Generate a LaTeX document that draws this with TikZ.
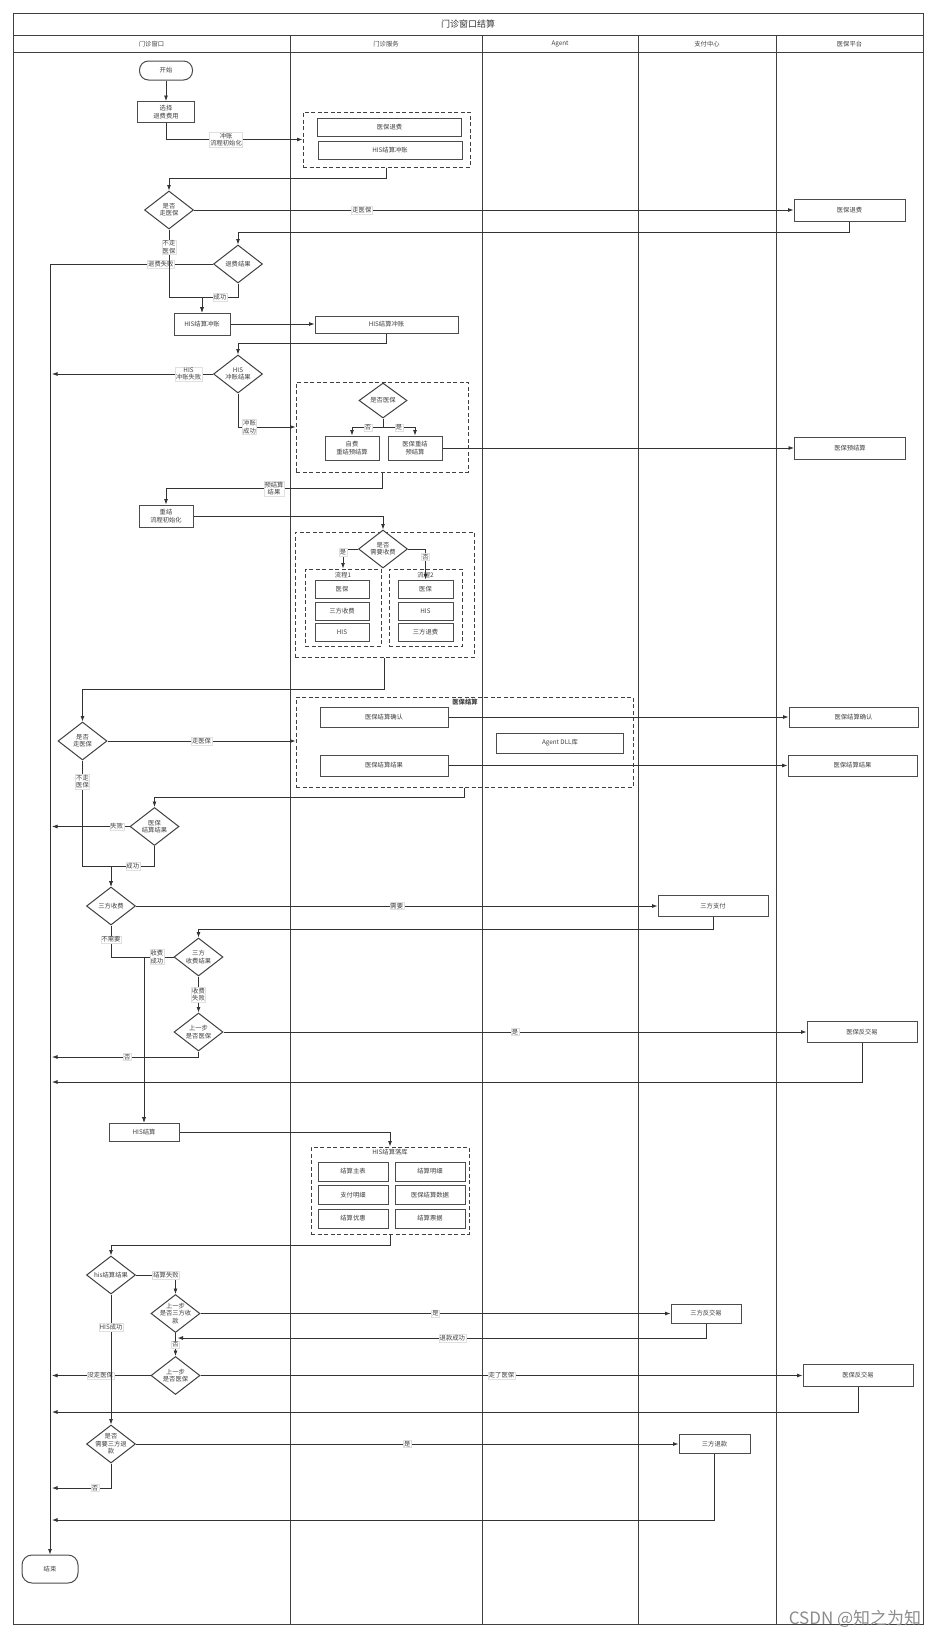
\documentclass[tikz,border=0pt]{standalone}
\usepackage{fontspec}
\setmainfont{Noto Sans CJK SC}
\usetikzlibrary{arrows.meta,shapes.geometric,calc}
\newcommand\myfs{\fontsize{6.3}{7.4}\selectfont}
\newcommand\mytitlefs{\fontsize{9}{10}\selectfont}
\begin{document}
\begin{tikzpicture}[x=1pt,y=-1pt,
  ln/.style={draw=black!80, line width=0.8pt},
  arr/.style={ln, -{Latex[length=5.5pt,width=4pt]}},
  box/.style={draw=black!70, line width=1pt, fill=white, inner sep=0pt, font=\myfs, text=black!75, align=center},
  term/.style={box, rounded corners=9pt},
  grp/.style={draw=black!75, line width=1pt, dash pattern=on 4pt off 2.5pt, inner sep=0pt},
  dia/.style={diamond, draw=black!75, line width=1pt, fill=white, inner sep=0pt, minimum width=49pt, minimum height=38pt},
  dtxt/.style={font=\myfs, text=black!75, align=center, inner sep=0pt},
  lbl/.style={font=\myfs, text=black!75, fill=white, draw=black!12, line width=0.3pt, inner sep=0.8pt, align=center},
  lane/.style={draw=black!75, line width=1pt},
  hdr/.style={font=\myfs, text=black!75},
  gtitle/.style={font=\myfs, text=black!75, inner sep=0pt}
]
\useasboundingbox (0,0) rectangle (937,1638);
% ---------- frame and lanes ----------
\draw[lane] (13,13) rectangle (923,1624);
\draw[lane] (13,35) -- (923,35);
\draw[lane] (13,52) -- (923,52);
\foreach \xx in {290,482,638,776} \draw[lane] (\xx,35) -- (\xx,1624);
\node[font=\mytitlefs, text=black!80] (title) at (468,24) {门诊窗口结算};
\node[hdr] (h1) at (151.5,44) {门诊窗口};
\node[hdr] (h2) at (386,44) {门诊服务};
\node[hdr] (h3) at (560,44) {Agent};
\node[hdr] (h4) at (707,44) {支付中心};
\node[hdr] (h5) at (849.5,44) {医保平台};

% ---------- groups ----------
\node[grp, minimum width=167pt, minimum height=55pt] (g1) at (386.5,139.5) {};
\node[grp, minimum width=172pt, minimum height=90pt] (g2) at (382,427) {};
\node[grp, minimum width=179pt, minimum height=125pt] (g3) at (384.5,594.5) {};
\node[grp, minimum width=76pt, minimum height=77pt] (g31) at (343,607.5) {};
\node[grp, minimum width=73pt, minimum height=77pt] (g32) at (425.5,607.5) {};
\node[grp, minimum width=337pt, minimum height=90pt] (g4) at (464.5,742) {};
\node[grp, minimum width=158pt, minimum height=87pt] (g5) at (390,1190.5) {};
\node[gtitle] (g31t) at (343,575) {流程1};
\node[gtitle] (g32t) at (425.5,575) {流程2};
\node[gtitle, font=\myfs\bfseries] (g4t) at (465,702) {医保结算};
\node[gtitle] (g5t) at (390,1152) {HIS结算落库};

% ---------- nodes ----------
\node[term, minimum width=53pt, minimum height=19pt] (start) at (166,70.5) {开始};
\node[box, minimum width=57pt, minimum height=21pt] (bsel) at (166,112) {选择\\退费费用};
\node[box, minimum width=144pt, minimum height=18pt] (g1a) at (389.5,127) {医保退费};
\node[box, minimum width=144pt, minimum height=18pt] (g1b) at (390,150) {HIS结算冲账};
\node[dia, label={[dtxt]center:是否\\走医保}] (dzyb1) at (169,210) {};
\node[box, minimum width=111pt, minimum height=22pt] (rybtf) at (849.5,210) {医保退费};
\node[dia, label={[dtxt]center:退费结果}] (dtfjg) at (238,264) {};
\node[box, minimum width=56pt, minimum height=22pt] (bhiscz) at (202,324) {HIS结算冲账};
\node[box, minimum width=143pt, minimum height=17pt] (shiscz) at (386.5,324.5) {HIS结算冲账};
\node[dia, label={[dtxt]center:HIS\\冲账结果}] (dhisczjg) at (238,374) {};
\node[dia, minimum width=48pt, minimum height=35pt, label={[dtxt]center:是否医保}] (dsfyb) at (383,400.5) {};
\node[box, minimum width=54pt, minimum height=24pt] (bzf) at (352,448) {自费\\重结预结算};
\node[box, minimum width=54pt, minimum height=24pt] (bybcj) at (415,448) {医保重结\\预结算};
\node[box, minimum width=111pt, minimum height=22pt] (rybyjs) at (850,448) {医保预结算};
\node[box, minimum width=54pt, minimum height=22pt] (bcjinit) at (166,516) {重结\\流程初始化};
\node[dia, label={[dtxt]center:是否\\需要收费}] (dsfxysf) at (383,549) {};
\node[box, minimum width=54pt, minimum height=18pt] (p1a) at (342,589) {医保};
\node[box, minimum width=54pt, minimum height=18pt] (p1b) at (342,611) {三方收费};
\node[box, minimum width=54pt, minimum height=18pt] (p1c) at (342,632) {HIS};
\node[box, minimum width=55pt, minimum height=18pt] (p2a) at (425.5,589) {医保};
\node[box, minimum width=55pt, minimum height=18pt] (p2b) at (425.5,611) {HIS};
\node[box, minimum width=55pt, minimum height=18pt] (p2c) at (425.5,632) {三方退费};
\node[dia, label={[dtxt]center:是否\\走医保}] (dzyb2) at (82.5,741) {};
\node[box, minimum width=128pt, minimum height=20pt] (bybjsqr) at (384,717) {医保结算确认};
\node[box, minimum width=127pt, minimum height=20pt] (bagent) at (560,743) {Agent DLL库};
\node[box, minimum width=128pt, minimum height=21pt] (bybjsjg) at (384,765.5) {医保结算结果};
\node[box, minimum width=129pt, minimum height=20pt] (rybjsqr) at (853.5,717) {医保结算确认};
\node[box, minimum width=129pt, minimum height=21pt] (rybjsjg) at (852.5,765.5) {医保结算结果};
\node[dia, label={[dtxt]center:医保\\结算结果}] (dybjsjg) at (154.5,826.5) {};
\node[dia, label={[dtxt]center:三方收费}] (dsfsf) at (111,906) {};
\node[box, minimum width=110pt, minimum height=21pt] (rsfzf) at (713,906) {三方支付};
\node[dia, label={[dtxt]center:三方\\收费结果}] (dsfsfjg) at (198.5,957) {};
\node[dia, label={[dtxt]center:上一步\\是否医保}] (dsybyb1) at (198.5,1032) {};
\node[box, minimum width=110pt, minimum height=21pt] (rybfjy1) at (862,1032) {医保反交易};
\node[box, minimum width=70pt, minimum height=18pt] (bhisjs) at (144,1132) {HIS结算};
\node[box, minimum width=70pt, minimum height=19pt] (l1) at (353,1171.5) {结算主表};
\node[box, minimum width=70pt, minimum height=19pt] (r1) at (430,1171.5) {结算明细};
\node[box, minimum width=70pt, minimum height=19pt] (l2) at (353,1195) {支付明细};
\node[box, minimum width=70pt, minimum height=19pt] (r2) at (430,1195) {医保结算数据};
\node[box, minimum width=70pt, minimum height=19pt] (l3) at (353,1218.5) {结算优惠};
\node[box, minimum width=70pt, minimum height=19pt] (r3) at (430,1218.5) {结算票据};
\node[dia, label={[dtxt]center:his结算结果}] (dhisjsjg) at (111,1275) {};
\node[dia, label={[dtxt]center:上一步\\是否三方收\\款}] (dsybsf) at (175.5,1313.5) {};
\node[box, minimum width=70pt, minimum height=19pt] (rsffjy) at (706,1313.5) {三方反交易};
\node[dia, label={[dtxt]center:上一步\\是否医保}] (dsybyb2) at (175.5,1375.5) {};
\node[box, minimum width=110pt, minimum height=22pt] (rybfjy2) at (858,1375.5) {医保反交易};
\node[dia, label={[dtxt]center:是否\\需要三方退\\款}] (dsfxytk) at (111,1444) {};
\node[box, minimum width=71pt, minimum height=19pt] (rsftk) at (714.5,1444) {三方退款};
\node[term, rounded corners=10pt, minimum width=56pt, minimum height=28pt] (end) at (50,1569) {结束};

% ---------- connectors ----------
\draw[arr] (start.south) -- (bsel.north);
\draw[arr] (bsel.south) |- node[lbl,pos=0.72]{冲账\\流程初始化} (g1.west);
\draw[arr] (g1.south) -- ++(0,11) -| (dzyb1.north);
\draw[arr] (dzyb1.east) -- node[lbl,pos=0.28]{走医保} (rybtf.west);
\draw[arr] (rybtf.south) -- ++(0,11) -| (dtfjg.north);
\draw[arr] (dtfjg.west) -| node[lbl,pos=0.16]{退费失败} (end.north);
\draw[arr] (dzyb1.south) -- node[lbl,pos=0.26]{不走\\医保} (dzyb1.south |- 0,297) -| (bhiscz.north);
\draw[arr] (dtfjg.south) -- (dtfjg.south |- 0,297) -| node[lbl,pos=0.25]{成功} (bhiscz.north);
\draw[arr] (bhiscz.east) -- (shiscz.west |- bhiscz.east);
\draw[arr] (shiscz.south) -- ++(0,10) -| (dhisczjg.north);
\draw[arr, shorten >=2pt] (dhisczjg.west) -- node[lbl,pos=0.15]{HIS\\冲账失败} (end.north |- dhisczjg.west);
\draw[arr] (dhisczjg.south) |- node[lbl,pos=0.6]{冲账\\成功} (g2.west);
\draw[arr] (dsfyb.south) -- ++(0,9) -| node[lbl,pos=0.24]{否} (bzf.north);
\draw[arr] (dsfyb.south) -- ++(0,9) -| node[lbl,pos=0.25]{是} (bybcj.north);
\draw[arr] (bybcj.east) -- (rybyjs.west);
\draw[arr] (g2.south) -- ++(0,16) -| node[lbl,pos=0.25]{预结算\\结果} (bcjinit.north);
\draw[arr] (bcjinit.east) -| (dsfxysf.north);
\draw[arr] (dsfxysf.west) -| node[lbl,pos=0.58]{是} (g31.north);
\draw[arr] (dsfxysf.east) -| node[lbl,pos=0.63]{否} (p2a.north);
\draw[arr] (g3.south) -- ++(0,32) -| (dzyb2.north);
\draw[arr] (dzyb2.east) -- node[lbl]{走医保} (g4.west |- dzyb2.east);
\draw[arr] (bybjsqr.east) -- (rybjsqr.west);
\draw[arr] (bybjsjg.east) -- (rybjsjg.west);
\draw[arr] (g4.south) -- ++(0,10) -| (dybjsjg.north);
\draw[arr, shorten >=2pt] (dybjsjg.west) -- node[lbl,pos=0.16]{失败} (end.north |- dybjsjg.west);
\draw[arr] (dybjsjg.south) -- (dybjsjg.south |- 0,866) -| node[lbl,pos=0.25]{成功} (dsfsf.north);
\draw[arr] (dzyb2.south) -- node[lbl,pos=0.2]{不走\\医保} (dzyb2.south |- 0,866) -| (dsfsf.north);
\draw[arr] (dsfsf.east) -- node[lbl]{需要} (rsfzf.west);
\draw[arr] (rsfzf.south) -- ++(0,12) -| (dsfsfjg.north);
\draw[arr] (dsfsf.south) -- node[lbl,pos=0.44]{不需要} (dsfsf.south |- dsfsfjg.west) -| (bhisjs.north);
\draw[arr] (dsfsfjg.west) -| node[lbl,pos=0.28]{收费\\成功} (bhisjs.north);
\draw[arr] (dsfsfjg.south) -- node[lbl]{收费\\失败} (dsybyb1.north);
\draw[arr] (dsybyb1.east) -- node[lbl]{是} (rybfjy1.west);
\draw[arr, shorten >=2pt] (dsybyb1.south) |- node[lbl,pos=0.74]{否} (end.north |- 0,1057);
\draw[arr, shorten >=2pt] (rybfjy1.south) |- (end.north |- 0,1082);
\draw[arr] (bhisjs.east) -| (g5.north);
\draw[arr] (g5.south) -- ++(0,11) -| (dhisjsjg.north);
\draw[arr] (dhisjsjg.east) -| node[lbl,pos=0.38]{结算失败} (dsybsf.north);
\draw[arr] (dsybsf.east) -- node[lbl]{是} (rsffjy.west);
\draw[arr] (rsffjy.south) |- node[lbl,pos=0.74]{退款成功} ($(dsybsf.south)+(2,5)$);
\draw[arr] (dsybsf.south) -- node[lbl]{否} (dsybyb2.north);
\draw[arr, shorten >=2pt] (dsybyb2.west) -- node[lbl]{没走医保} (end.north |- dsybyb2.west);
\draw[arr] (dsybyb2.east) -- node[lbl]{走了医保} (rybfjy2.west);
\draw[arr, shorten >=2pt] (rybfjy2.south) |- (end.north |- 0,1412);
\draw[arr] (dhisjsjg.south) -- node[lbl,pos=0.25]{HIS成功} (dsfxytk.north);
\draw[arr] (dsfxytk.east) -- node[lbl]{是} (rsftk.west);
\draw[arr, shorten >=2pt] (dsfxytk.south) |- node[lbl,pos=0.63]{否} (end.north |- 0,1488);
\draw[arr, shorten >=2pt] (rsftk.south) |- (end.north |- 0,1520);

% watermark
\node[font=\fontsize{17}{17}\selectfont, text=black!45] (wm) at (855,1619) {CSDN @知之为知};
\end{tikzpicture}
\end{document}
